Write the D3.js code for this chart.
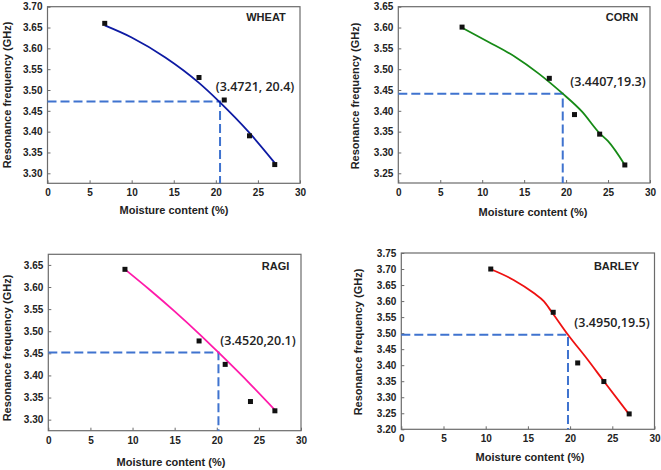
<!DOCTYPE html>
<html><head><meta charset="utf-8">
<script src="https://cdn.jsdelivr.net/npm/d3@7"></script>
<style>body{margin:0;background:#fff}svg{display:block}</style>
</head><body>
<svg id="c" width="661" height="470"></svg>
<script>
// ---- data ----
const grainNames = ["WHEAT", "CORN", "RAGI", "BARLEY"];
const xTicks = [0, 5, 10, 15, 20, 25, 30];
const yTicksWheat = [3.30, 3.35, 3.40, 3.45, 3.50, 3.55, 3.60, 3.65, 3.70];
const yTicksCorn = [3.25, 3.30, 3.35, 3.40, 3.45, 3.50, 3.55, 3.60, 3.65];
const yTicksRagi = [3.30, 3.35, 3.40, 3.45, 3.50, 3.55, 3.60, 3.65];
const yTicksBarley = [3.20, 3.25, 3.30, 3.35, 3.40, 3.45, 3.50, 3.55, 3.60, 3.65, 3.70, 3.75];

const wheatMoisture = [6.8, 18.0, 21.0, 24.0, 27.0];
const wheatFreq = [3.660, 3.530, 3.476, 3.390, 3.321];
const wheatFitX = [6.8, 10, 14, 18, 20.4, 24, 27];
const wheatFitY = [3.655, 3.626, 3.578, 3.517, 3.4721, 3.397, 3.325];
const wheatMark = [20.5, 3.4721];

const cornMoisture = [7.6, 18.0, 21.0, 24.0, 27.0];
const cornFreq = [3.601, 3.478, 3.391, 3.344, 3.270];
const cornFitX = [7.56, 10.7, 13.9, 16.7, 19.5, 21.9, 24.0, 25.0, 27.0];
const cornFitY = [3.600, 3.566, 3.530, 3.490, 3.443, 3.398, 3.346, 3.327, 3.270];
const cornMark = [19.6, 3.4407];

const ragiMoisture = [9.1, 17.9, 21.0, 24.0, 26.9];
const ragiFreq = [3.640, 3.478, 3.425, 3.341, 3.320];
const ragiFitX = [9.1, 12, 15, 18, 20.2, 24, 27];
const ragiFitY = [3.640, 3.5945, 3.545, 3.4925, 3.4520, 3.380, 3.320];
const ragiMark = [20.2, 3.4520];

const barleyMoisture = [10.6, 18.0, 20.9, 24.0, 27.0];
const barleyFreq = [3.700, 3.565, 3.407, 3.349, 3.248];
const barleyFitX = [10.54, 13.3, 15.7, 16.9, 17.8, 19.75, 22.0, 24.0, 26.9];
const barleyFitY = [3.700, 3.666, 3.625, 3.599, 3.567, 3.495, 3.420, 3.350, 3.250];
const barleyMark = [19.75, 3.4950];

const annotLabels = ["(3.4721, 20.4)", "(3.4407,19.3)", "(3.4520,20.1)", "(3.4950,19.5)"];
const xTitle = "Moisture content (%)";
const yTitle = "Resonance frequency (GHz)";

// ---- layout ----
const panels = [
  {name: grainNames[0], xs: wheatMoisture, ys: wheatFreq, fx: wheatFitX, fy: wheatFitY, mark: wheatMark, label: annotLabels[0],
   yTicks: yTicksWheat, yDom: [3.276, 3.70], L: 47.5, R: 300, T: 6.7, B: 183.3, color: "#0d1aa3",
   yT: [7, 95], xT: [174, 210], nm: [266, 17], an: [255, 87]},
  {name: grainNames[1], xs: cornMoisture, ys: cornFreq, fx: cornFitX, fy: cornFitY, mark: cornMark, label: annotLabels[1],
   yTicks: yTicksCorn, yDom: [3.2267, 3.65], L: 398.3, R: 650, T: 6.7, B: 183, color: "#168a16",
   yT: [355, 96], xT: [533, 212], nm: [622, 17], an: [608, 82]},
  {name: grainNames[2], xs: ragiMoisture, ys: ragiFreq, fx: ragiFitX, fy: ragiFitY, mark: ragiMark, label: annotLabels[2],
   yTicks: yTicksRagi, yDom: [3.275, 3.674], L: 48.3, R: 301, T: 254.3, B: 430.7, color: "#ff1aaa",
   yT: [7, 348], xT: [171, 462], nm: [275.5, 266], an: [258, 341]},
  {name: grainNames[3], xs: barleyMoisture, ys: barleyFreq, fx: barleyFitX, fy: barleyFitY, mark: barleyMark, label: annotLabels[3],
   yTicks: yTicksBarley, yDom: [3.20, 3.75], L: 401.3, R: 654.5, T: 253, B: 429.3, color: "#ee1111",
   yT: [358, 342], xT: [530, 457], nm: [616.5, 266], an: [612, 323]}
];

const svg = d3.select("#c");
const dashColor = "#3f73cf";

panels.forEach(p => {
  const x = d3.scaleLinear().domain([0, 30]).range([p.L, p.R]);
  const y = d3.scaleLinear().domain(p.yDom).range([p.B, p.T]);
  const g = svg.append("g");

  g.append("rect").attr("x", p.L).attr("y", p.T).attr("width", p.R - p.L).attr("height", p.B - p.T)
    .attr("fill", "none").attr("stroke", "#6b6b6b").attr("stroke-width", 1.2);

  const xa = d3.axisBottom(x).tickValues(xTicks).tickSize(-3).tickPadding(6).tickFormat(d3.format("d"));
  const ya = d3.axisLeft(y).tickValues(p.yTicks).tickSize(-3).tickPadding(5).tickFormat(d3.format(".2f"));
  const gx = g.append("g").attr("transform", `translate(0,${p.B})`).call(xa);
  const gy = g.append("g").attr("transform", `translate(${p.L},0)`).call(ya);
  [gx, gy].forEach(a => {
    a.select(".domain").remove();
    a.selectAll(".tick line").attr("stroke", "#6b6b6b");
    a.selectAll("text").attr("font-family", "Liberation Sans, Arial, sans-serif")
      .attr("font-weight", "bold").attr("font-size", 10).attr("fill", "#222");
  });

  g.append("path")
    .attr("d", `M${p.L},${y(p.mark[1])}H${x(p.mark[0])}V${p.B}`)
    .attr("fill", "none").attr("stroke", dashColor).attr("stroke-width", 2)
    .attr("stroke-dasharray", "9,4");

  const fit = p.fx.map((v, i) => [v, p.fy[i]]);
  g.append("path").datum(fit)
    .attr("d", d3.line().x(d => x(d[0])).y(d => y(d[1])).curve(d3.curveMonotoneX))
    .attr("fill", "none").attr("stroke", p.color).attr("stroke-width", 1.8);

  g.selectAll("rect.pt").data(p.xs.map((v, i) => [v, p.ys[i]])).enter()
    .append("rect").attr("class", "pt")
    .attr("x", d => x(d[0]) - 2.5).attr("y", d => y(d[1]) - 2.5)
    .attr("width", 5).attr("height", 5).attr("fill", "#111");

  g.append("text").attr("x", p.nm[0]).attr("y", p.nm[1]).attr("dy", "0.35em")
    .attr("text-anchor", "middle").attr("font-family", "Liberation Sans, Arial, sans-serif")
    .attr("font-weight", "bold").attr("font-size", 11).attr("fill", "#222").text(p.name);

  g.append("text").attr("x", p.an[0]).attr("y", p.an[1]).attr("dy", "0.35em")
    .attr("text-anchor", "middle").attr("font-family", "Open Sans, sans-serif")
    .attr("font-weight", 600).attr("font-size", 12.5).attr("fill", "#222").text(p.label);

  g.append("text").attr("x", p.xT[0]).attr("y", p.xT[1]).attr("dy", "0.35em")
    .attr("text-anchor", "middle").attr("font-family", "Liberation Sans, Arial, sans-serif")
    .attr("font-weight", "bold").attr("font-size", 11).attr("fill", "#222").text(xTitle);

  g.append("text").attr("transform", `translate(${p.yT[0]},${p.yT[1]}) rotate(-90)`).attr("dy", "0.35em")
    .attr("text-anchor", "middle").attr("font-family", "Liberation Sans, Arial, sans-serif")
    .attr("font-weight", "bold").attr("font-size", 11).attr("fill", "#222").text(yTitle);
});
</script>
</body></html>
